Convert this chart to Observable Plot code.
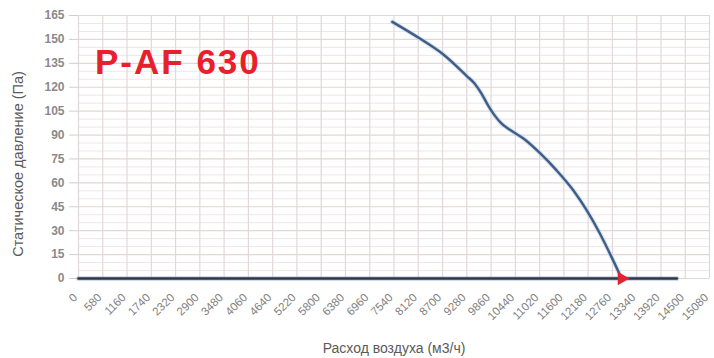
<!DOCTYPE html>
<html>
<head>
<meta charset="utf-8">
<script src="https://cdn.jsdelivr.net/npm/d3@7"></script>
<script src="https://cdn.jsdelivr.net/npm/@observablehq/plot@0.6"></script>
<style>
  html, body { margin: 0; padding: 0; background: #fff; }
  #wrap { position: relative; width: 714px; height: 358px; }
  #title { position: absolute; left: 95px; top: 42px; font: bold 35px "Liberation Sans", Arial, sans-serif; color: #e8202b; letter-spacing: 2px; }
</style>
</head>
<body>
<div id="wrap"><div id="title">P-AF 630</div></div>
<script>
const curveFlow = [7500, 8160, 8720, 9280, 9460, 9620, 9780, 9940, 10100, 10310, 10650, 11030, 11420, 11820, 12140, 12460, 12740, 12980];
const curvePressure = [161, 150.5, 140.5, 127, 122.5, 116.5, 109, 102.5, 97.5, 93.3, 87.5, 78.6, 68, 55.5, 43, 28.2, 13.4, 0];
const baseFlow = [0, 14300];
const basePressure = [0, 0];
const opFlow = [12980];
const opPressure = [0];
const xTicks = [0, 580, 1160, 1740, 2320, 2900, 3480, 4060, 4640, 5220, 5800, 6380, 6960, 7540, 8120, 8700, 9280, 9860, 10440, 11020, 11600, 12180, 12760, 13340, 13920, 14500, 15080];
const yTicks = [0, 15, 30, 45, 60, 75, 90, 105, 120, 135, 150, 165];
const yMinor = [5, 10, 20, 25, 35, 40, 50, 55, 65, 70, 80, 85, 95, 100, 110, 115, 125, 130, 140, 145, 155, 160];
const xLabel = "Расход воздуха (м3/ч)";
const yLabel = "Статическое давление (Па)";

const curve = curveFlow.map((x, i) => ({x, y: curvePressure[i]}));
const base = baseFlow.map((x, i) => ({x, y: basePressure[i]}));
const op = opFlow.map((x, i) => ({x, y: opPressure[i]}));

const chart = Plot.plot({
  width: 714,
  height: 358,
  marginLeft: 78,
  marginRight: 5,
  marginTop: 15,
  marginBottom: 80,
  style: {fontFamily: "'Liberation Sans', Arial, sans-serif", background: "transparent"},
  x: {domain: [0, 15080]},
  y: {domain: [0, 165]},
  marks: [
    Plot.gridY(yMinor, {stroke: "#efe6e6", strokeOpacity: 1, strokeWidth: 1}),
    Plot.gridY(yTicks, {stroke: "#e2d6d6", strokeOpacity: 1, strokeWidth: 1.2}),
    Plot.gridX(xTicks, {stroke: "#e2d8d8", strokeOpacity: 1, strokeWidth: 1.2}),
    Plot.axisY(yTicks, {tickSize: 9, tickPadding: 5, stroke: "#cfcfcf", fill: "#8a8a8a", fontSize: 12, fontWeight: "bold", label: null}),
    Plot.axisX(xTicks, {tickSize: 0, tickPadding: 17, tickRotate: -45, dx: -3, fill: "#808080", fontSize: 11.5, label: null, tickFormat: d => String(d)}),
    Plot.line(base, {x: "x", y: "y", stroke: "#9fb6d6", strokeWidth: 5, strokeOpacity: 0.5}),
    Plot.line(base, {x: "x", y: "y", stroke: "#2e3440", strokeWidth: 2.6}),
    Plot.line(curve, {x: "x", y: "y", curve: "monotone-x", stroke: "#b9cde6", strokeWidth: 4.5, strokeOpacity: 0.6}),
    Plot.line(curve, {x: "x", y: "y", curve: "monotone-x", stroke: "#3f5d86", strokeWidth: 2.4}),
    Plot.dot(op, {x: "x", y: "y", symbol: "triangle", rotate: 90, r: 5, fill: "#e2222e", stroke: "none"}),
    Plot.text([yLabel], {frameAnchor: "left", textAnchor: "middle", rotate: -90, dx: -60, dy: 17, fontSize: 14.5, fill: "#5a5a5a"}),
    Plot.text([xLabel], {frameAnchor: "bottom", textAnchor: "middle", dy: 74, fontSize: 14, fill: "#5a5a5a"})
  ]
});
document.getElementById("wrap").prepend(chart);
chart.style.position = "absolute";
chart.style.left = "0";
chart.style.top = "0";
</script>
</body>
</html>
